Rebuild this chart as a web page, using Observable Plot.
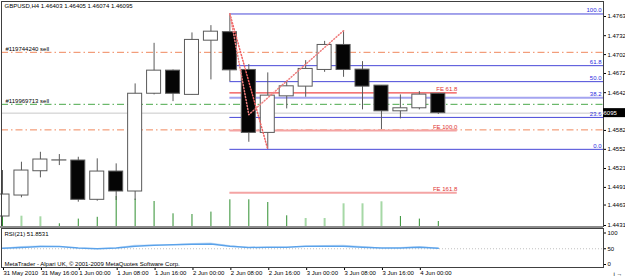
<!DOCTYPE html>
<html><head><meta charset="utf-8">
<script src="https://cdn.jsdelivr.net/npm/d3@7"></script>
<script src="https://cdn.jsdelivr.net/npm/@observablehq/plot@0.6"></script>
<style>
html,body{margin:0;padding:0;background:#fff;}
#chart{position:relative;width:625px;height:278px;overflow:hidden;background:#fff;}
#chart svg{position:absolute;left:0;overflow:hidden;}
#sep{position:absolute;left:0;top:226px;width:603px;height:2px;background:#8c8c8c;}
</style></head><body><div id="chart"></div>
<script>
// ---------- data ----------
const symbol = "GBPUSD";
const timeframe = "H4";
const candleIndex = [0,1,2,3,4,5,6,7,8,9,10,11,12,13,14,15,16,17,18,19,20,21,22,23];
const opens  = [1.44453,1.44786,1.45172,1.45342,1.45342,1.44718,1.45167,1.44850,1.46403,1.46770,1.46385,1.47246,1.47381,1.46781,1.45781,1.46362,1.46516,1.46781,1.47178,1.46786,1.46532,1.46124,1.46172,1.46403];
const highs  = [1.45183,1.45315,1.45473,1.45437,1.45394,1.45369,1.45289,1.46559,1.47204,1.46780,1.47369,1.47485,1.47670,1.46866,1.46734,1.46596,1.46929,1.47235,1.47405,1.46913,1.46532,1.46385,1.46437,1.46405];
const lows   = [1.44437,1.44750,1.45067,1.45262,1.44680,1.44696,1.44707,1.44707,1.46385,1.46278,1.46380,1.46623,1.46596,1.45632,1.45520,1.46162,1.46347,1.46743,1.46664,1.46147,1.45834,1.46004,1.46147,1.46074];
const closes = [1.44802,1.45183,1.45358,1.45345,1.44718,1.45167,1.44850,1.46403,1.46770,1.46403,1.47258,1.47389,1.46775,1.45781,1.46373,1.46521,1.46797,1.47178,1.46781,1.46516,1.46124,1.46172,1.46389,1.46095];
const volumes = [6350,5150,4850,1350,3700,4600,15000,13700,12500,6350,6000,7200,13350,13350,12000,5350,4000,4000,11350,11350,12350,5000,3700,2500];
const volumeTone = ["dark","light","light","dark","dark","dark","dark","dark","dark","dark","dark","dark","dark","dark","dark","dark","light","light","light","light","light","dark","dark","dark"];
const rsiValues = [51.8,54,57,57,52,50,52,58,61,63,64.5,65,58,54,55,55,58,58,58,55,52,52,55,51.8531];
const rsiSignal = [51.8,57,59,57,52,50,53,61,62,63,67,68,60,54,55,55,58,60,61,57,52,54,57,52];
const timeTickIndex = [0,2,4,6,8,10,12,14,16,18,20,22];
const timeTickLabels = ["31 May 2010","31 May 16:00","1 Jun 00:00","1 Jun 08:00","1 Jun 16:00","2 Jun 00:00","2 Jun 08:00","2 Jun 16:00","3 Jun 00:00","3 Jun 08:00","3 Jun 16:00","4 Jun 00:00"];
const priceTicks = [1.47630,1.47325,1.47025,1.46725,1.46420,1.45820,1.45520,1.45215,1.44915,1.44635,1.44310];
const rsiTicks = [0,50,100];
const fibLabels = ["100.0","61.8","50.0","38.2","23.6","0.0"];
const fibPrices = [1.47670,1.46849,1.46595,1.46341,1.46027,1.45520];
const fibStartIndex = 12, fibEndIndex = 40;
const feLabels = ["FE 61.8","FE 100.0","FE 161.8"];
const fePrices = [1.46418,1.45819,1.44830];
const feStartIndex = 12, feEndIndex = 24;
const orderLabels = ["#119744240 sell","#119969713 sell",""];
const orderPrices = [1.47061,1.46235,1.45829];
const orderKinds = ["stop","open","stop"];
const fiboTrendIndex = [12,14];
const fiboTrendPrice = [1.47670,1.45520];
const feTrendIndex = [12,13,18];
const feTrendPrice = [1.47670,1.46071,1.47405];
const rsiTitle = "RSI(21) 51.8531";
const copyright = "MetaTrader - Alpari UK, \u00a9 2001-2009 MetaQuotes Software Corp.";

// ---------- tables ----------
const candles = candleIndex.map((i,k)=>({i,o:opens[k],h:highs[k],l:lows[k],c:closes[k],up:closes[k]>=opens[k]}));
const vols = candleIndex.map((i,k)=>({i,v:volumes[k],tone:volumeTone[k]}));
const rsi = candleIndex.map((i,k)=>({i,r:rsiValues[k],s:rsiSignal[k]}));
const fibs = fibLabels.map((label,k)=>({label,price:fibPrices[k]}));
const fes = feLabels.map((label,k)=>({label,price:fePrices[k]}));
const orders = orderLabels.map((label,k)=>({label,price:orderPrices[k],kind:orderKinds[k]}));
const fiboTrend = fiboTrendIndex.map((i,k)=>({i,p:fiboTrendPrice[k]}));
const feTrend = feTrendIndex.map((i,k)=>({i,p:feTrendPrice[k]}));
const last = candles[candles.length-1];
const titleText = `${symbol},${timeframe} ${last.o.toFixed(5)} ${last.h.toFixed(5)} ${last.l.toFixed(5)} ${last.c.toFixed(5)}`;

const W = 625;
const font = "'Liberation Sans', Arial, sans-serif";
const xScale = {domain:[0,23], range:[2,437.8], axis:null};
const halfBody = 0.37;

// ---------- volume (behind) ----------
const volPlot = Plot.plot({
  width: W, height: 228, marginLeft: 1, marginRight: 22, marginTop: 1, marginBottom: 2,
  x: xScale,
  y: {domain:[0,20000], range:[226,186], axis:null},
  style:{background:"transparent"},
  marks: [
    Plot.ruleX(vols, {x:"i", y1:0, y2:"v",
      stroke: d => d.tone === "dark" ? "#2f8f2f" : "#a6d8a6",
      strokeWidth: d => d.tone === "dark" ? 1 : 2})
  ]
});

// ---------- main price panel ----------
const priceBox = (index, scales, values, dim) => {
  const g = d3.create("svg:g");
  const yy = scales.y(last.c);
  g.append("rect").attr("x", dim.width - dim.marginRight).attr("y", yy - 4.5)
    .attr("width", dim.marginRight).attr("height", 9).attr("fill", "#000");
  g.append("text").attr("x", dim.width - dim.marginRight + 3).attr("y", yy).attr("dy", "0.35em")
    .attr("fill", "#fff").attr("font-size", 6).attr("font-family", font).text(last.c.toFixed(5));
  return g.node();
};

const mainPlot = Plot.plot({
  width: W, height: 228, marginLeft: 1, marginRight: 22, marginTop: 1, marginBottom: 2,
  x: xScale,
  y: {domain:[1.44310,1.47630], range:[225,16]},
  style:{background:"transparent", fontFamily: font, fontSize:"6px", color:"#000"},
  marks: [
    Plot.ruleY([last.c], {stroke:"#c8c8c8"}),
    Plot.ruleY(orders, {y:"price", stroke: d => d.kind === "open" ? "#4aa84a" : "#f0875c", strokeDasharray:"7,3,1.5,3"}),
    Plot.ruleY(fibs, {y:"price", x1: () => fibStartIndex, x2: () => fibEndIndex, clip: true,
      stroke: d => d.label === "38.2" ? "#a4a4f0" : "#4848d8", strokeWidth: d => d.label === "38.2" ? 2 : 1}),
    Plot.ruleY(fes, {y:"price", x1: () => feStartIndex, x2: () => feEndIndex,
      stroke: d => d.label === "FE 61.8" ? "#f04a4a" : "#f4a4a4", strokeWidth: d => d.label === "FE 61.8" ? 1.2 : 2}),
    Plot.ruleX(candles, {x:"i", y1:"l", y2:"h", stroke:"#5a5a5a"}),
    Plot.rect(candles, {x1: d => d.i - halfBody, x2: d => d.i + halfBody, y1:"o", y2:"c",
      fill: d => d.up ? "#fff" : "#050505", stroke:"#5a5a5a"}),
    Plot.line(fiboTrend, {x:"i", y:"p", stroke:"#f06060", strokeDasharray:"1,2"}),
    Plot.line(feTrend, {x:"i", y:"p", stroke:"#f08080", strokeDasharray:"1,2"}),
    Plot.text(fibs, {y:"price", text:"label", frameAnchor:"right", textAnchor:"end", dx:-2, dy:-3.5, fill:"#2a2ae0"}),
    Plot.text(fes, {x: () => feEndIndex, y:"price", text:"label", textAnchor:"end", dy:-3.5, fill:"#e03232"}),
    Plot.text(orders, {y:"price", text:"label", frameAnchor:"left", textAnchor:"start", dx:4, dy:-3.5, fill:"#000"}),
    Plot.text([titleText], {frameAnchor:"top-left", textAnchor:"start", lineAnchor:"top", dx:3, dy:2, fill:"#000"}),
    Plot.axisY({anchor:"right", ticks: priceTicks, tickFormat: d => d.toFixed(5), tickSize:2, tickPadding:2, fill:"#000", stroke:"#000"}),
    Plot.frame({stroke:"#404040"}),
    priceBox
  ]
});

// ---------- RSI panel ----------
const rsiPlot = Plot.plot({
  width: W, height: 50, marginLeft: 1, marginRight: 22, marginTop: 0, marginBottom: 11,
  x: {...xScale, axis:null},
  y: {domain:[0,100], range:[36,4.5]},
  style:{background:"transparent", fontFamily: font, fontSize:"6px", color:"#000"},
  marks: [
    Plot.ruleY([50], {stroke:"#c0c0c0", strokeDasharray:"1,2"}),
    Plot.areaY(rsi, {x:"i", y1:"r", y2:"s", fill:"#c4ddf6"}),
    Plot.line(rsi, {x:"i", y:"r", stroke:"#5aa2ea"}),
    Plot.text([rsiTitle], {frameAnchor:"top-left", textAnchor:"start", lineAnchor:"top", dx:3, dy:3, fill:"#000"}),
    Plot.text([copyright], {frameAnchor:"bottom-left", textAnchor:"start", lineAnchor:"bottom", dx:3, dy:-1.5, fill:"#000"}),
    Plot.axisY({anchor:"right", ticks: rsiTicks, tickFormat: d => String(d), tickSize:2, tickPadding:2}),
    Plot.axisX({anchor:"bottom", ticks: timeTickIndex, tickFormat: (d) => timeTickLabels[timeTickIndex.indexOf(d)], tickSize:3, tickPadding:0, textAnchor:"start", dx:1}),
    Plot.frame({stroke:"#404040"})
  ]
});

const chart = document.getElementById("chart");
volPlot.style.top = "0px";
mainPlot.style.top = "0px";
rsiPlot.style.top = "228px";
chart.appendChild(volPlot);
chart.appendChild(mainPlot);
const sep = document.createElement("div"); sep.id = "sep"; chart.appendChild(sep);
chart.appendChild(rsiPlot);
</script>
</body></html>
